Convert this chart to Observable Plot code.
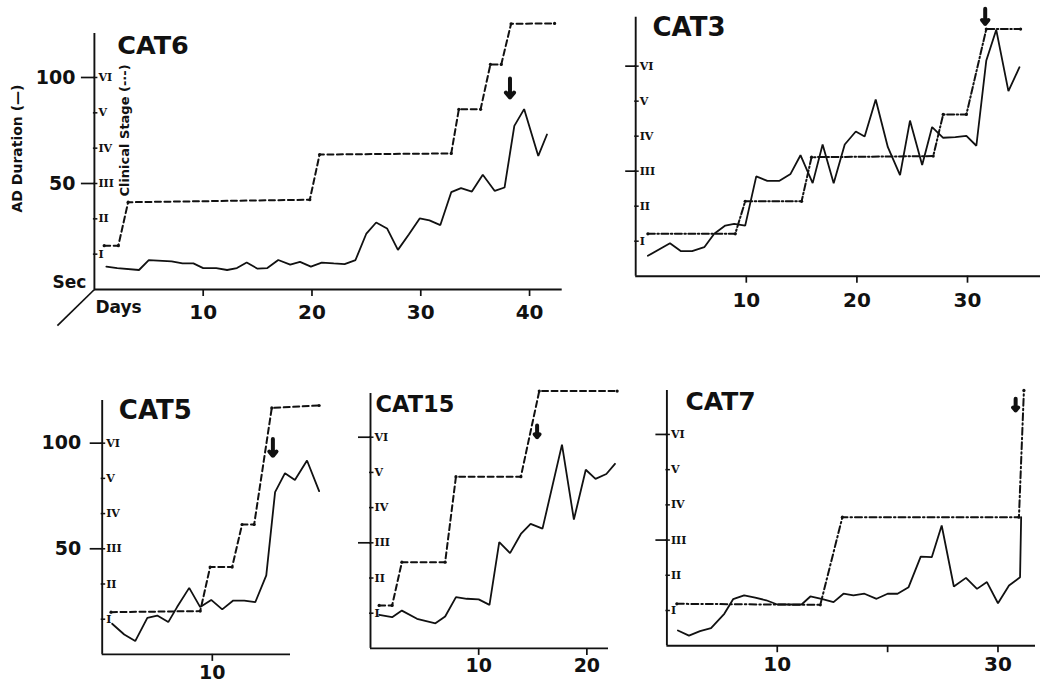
<!DOCTYPE html>
<html><head><meta charset="utf-8">
<script src="https://cdn.jsdelivr.net/npm/d3@7"></script>
<script src="https://cdn.jsdelivr.net/npm/@observablehq/plot@0.6"></script>
<style>
html,body{margin:0;padding:0;background:#fff;}
#wrap{position:relative;width:1046px;height:684px;overflow:hidden;background:#fff;}
#wrap svg{position:absolute;left:0;top:0;}
</style></head><body><div id="wrap"></div>
<script>
// ---------- data ----------
const AD_PER_STAGE = 50 / 3;           // stage III = 50 s, stage VI = 100 s
const stageLevels = [1, 2, 3, 4, 5, 6];
const stageLabels = ["I", "II", "III", "IV", "V", "VI"];
const adTicks = [50, 100];

// CAT6
const cat6Days  = [1.1,2.1,4.1,5.0,7.1,8.1,9.1,10,11.2,12.2,13.1,14,15,15.9,16.9,18,18.9,19.9,20.9,22,23,24,25,25.9,26.9,27.9,28.9,29.9,30.8,31.8,32.8,33.7,34.7,35.7,36.8,37.7,38.6,39.5,40.8,41.6];
const cat6AD    = [10.8,10.1,9.2,13.9,13.3,12.3,12.3,10.1,10.1,9.2,10.1,12.7,9.8,10.1,13.9,11.7,13.0,10.8,12.7,12.3,12.0,13.9,26.4,31.6,28.8,18.7,25.9,33.5,32.6,30.4,45.9,47.8,46.2,54.1,46.5,48.1,77.2,85.1,63.0,73.1];
const cat6StageDays = [0.9,2.2,3.1,19.8,20.7,32.8,33.5,35.5,36.4,37.4,38.3,42.3];
const cat6Stage     = [1.24,1.24,2.47,2.54,3.82,3.85,5.1,5.1,6.37,6.37,7.52,7.53];
const cat6XTicks = [10,20,30,40];
const cat6XLabels = [10,20,30,40];
const cat6Arrow = {day: 38.2, from: 99.5, to: 90.6};

// CAT3
const cat3Days = [1.1,3.1,4.1,5.1,6.2,7.1,8.1,8.9,9.9,10.9,11.9,13,14,14.9,16,16.9,17.9,18.9,19.9,20.7,21.7,22.8,23.9,24.8,25.9,26.8,27.8,28.9,29.9,30.8,31.7,32.6,33.7,34.7];
const cat3AD   = [9.7,15.7,11.9,11.9,13.8,20.2,24.1,24.9,24.1,47.5,45.4,45.4,48.7,57.6,44.3,62.7,44.3,62.7,68.9,66.5,84.1,61.4,48.1,74.1,52.9,71.0,65.9,66.2,66.8,62.1,102.7,117.3,88.1,99.5];
const cat3StageDays = [1.1,9.0,9.9,15.0,15.9,26.9,27.8,29.9,31.7,34.8];
const cat3Stage     = [1.21,1.21,2.14,2.14,3.4,3.43,4.62,4.62,7.06,7.06];
const cat3XTicks = [10,20,30];
const cat3XLabels = [10,20,30];
const cat3Arrow = {day: 31.6, from: 127.3, to: 120.1};

// CAT5
const cat5Days = [0.9,2.0,3.0,4.1,5.0,6.0,6.8,7.9,8.9,9.9,10.9,11.9,12.9,13.9,14.9,15.7,16.6,17.5,18.6,19.7];
const cat5AD   = [14.5,9.4,6.3,17.3,18.4,15.3,22.4,31.5,22.4,25.8,21.3,25.5,25.5,24.7,37.4,76.8,85.8,82.6,91.8,77.3];
const cat5StageDays = [0.8,8.9,9.8,11.8,12.7,13.8,15.4,19.7];
const cat5Stage     = [1.2,1.23,2.48,2.48,3.69,3.69,7.0,7.07];
const cat5XTicks = [10];
const cat5XLabels = [10];
const cat5Arrow = {day: 15.5, from: 102, to: 94};

// CAT15
const cat15Days = [0.8,2.0,2.9,4.3,6.0,6.9,7.9,8.9,10.0,11.0,11.9,12.9,13.9,14.8,15.9,17.7,18.8,19.9,20.8,21.8,22.6];
const cat15AD   = [15.9,14.8,17.9,14.0,11.9,15.1,24.3,23.5,23.2,20.6,50.3,45.1,54.2,59.0,56.7,96.5,61.0,84.6,80.3,82.6,87.4];
const cat15StageDays = [0.8,2.0,2.9,6.9,7.9,13.9,15.6,22.8];
const cat15Stage     = [1.22,1.22,2.45,2.45,4.88,4.88,7.31,7.31];
const cat15XTicks = [10,20];
const cat15XLabels = [10,20];
const cat15Arrow = {day: 15.4, from: 105.5, to: 100};

// CAT7
const cat7Days = [1.0,2.0,3.0,4.0,5.2,6.0,7.0,8.0,9.0,10.0,11.1,12.2,13.0,14.1,15.1,16.0,16.9,17.9,19.0,20.0,20.9,21.9,23.0,24.0,24.9,26.0,27.1,28.1,29.0,30.0,31.0,32.0,32.1];
const cat7AD   = [7.2,4.8,6.9,8.3,15.1,22.0,23.8,22.7,21.5,19.5,19.5,19.5,23.3,22.0,20.6,24.6,23.8,24.6,22.2,24.6,24.6,27.7,42.2,41.9,56.9,28.0,32.1,26.9,30.1,20.1,28.5,32.4,60.8];
const cat7StageDays = [0.9,13.9,15.9,31.9,32.35];
const cat7Stage     = [1.19,1.16,3.65,3.65,7.25];
const cat7XTicks = [10,20,30];
const cat7XLabels = [10,30];
const cat7Arrow = {day: 31.6, from: 116.9, to: 111.3};

// ---------- drawing ----------
const SANS = "'DejaVu Sans', 'Liberation Sans', sans-serif";
const SERIF = "'DejaVu Serif', 'Liberation Serif', serif";
const INK = "#111";

const panels = [
  {title:"CAT6", days:cat6Days, ad:cat6AD, sDays:cat6StageDays, stage:cat6Stage, xTicks:cat6XTicks, xLabels:cat6XLabels, arrow:cat6Arrow,
   left:93.9, right:561.7, top:33, bottom:289, xMax:43, yMax:120.75, adLabels:true, adTick:13, adPad:6,
   xPad:8, xFont:20, titleDx:22.8, titleDy:2, titleSize:25.5, dash:"6,3.5", extras:true},
  {title:"CAT3", days:cat3Days, ad:cat3AD, sDays:cat3StageDays, stage:cat3Stage, xTicks:cat3XTicks, xLabels:cat3XLabels, arrow:cat3Arrow,
   left:635.2, right:1040, top:16.7, bottom:275.7, xMax:36.6, yMax:123.3, adLabels:false, adTick:10, adPad:6,
   xPad:10, xFont:20, titleDx:16.8, titleDy:0.5, titleSize:26, dash:"7,2.5,1.5,2.5"},
  {title:"CAT5", days:cat5Days, ad:cat5AD, sDays:cat5StageDays, stage:cat5Stage, xTicks:cat5XTicks, xLabels:cat5XLabels, arrow:cat5Arrow,
   left:101.7, right:290, top:400, bottom:653.9, xMax:17.1, yMax:120.2, adLabels:true, adTick:12, adPad:9,
   xPad:4, xFont:19, titleDx:16.6, titleDy:0.5, titleSize:26, dash:"6,3.5"},
  {title:"CAT15", days:cat15Days, ad:cat15AD, sDays:cat15StageDays, stage:cat15Stage, xTicks:cat15XTicks, xLabels:cat15XLabels, arrow:cat15Arrow,
   left:370, right:608, top:393, bottom:647.9, xMax:22.0, yMax:120.7, adLabels:false, adTick:12, adPad:6,
   xPad:3, xFont:19, titleDx:5, titleDy:3, titleSize:22.5, dash:"6,3.5"},
  {title:"CAT7", days:cat7Days, ad:cat7AD, sDays:cat7StageDays, stage:cat7Stage, xTicks:cat7XTicks, xLabels:cat7XLabels, arrow:cat7Arrow,
   left:666.4, right:1035, top:390, bottom:645.2, xMax:33.4, yMax:120.8, adLabels:false, adTick:11, adPad:6,
   xPad:4, xFont:20, titleDx:18.6, titleDy:1.7, titleSize:25, dash:"7,3,1.5,3"}
];

const wrap = document.getElementById("wrap");
const W = 1046, H = 684;

for (const p of panels) {
  const solid = p.days.map((d, i) => ({day: d, ad: p.ad[i]}));
  const stg = p.sDays.map((d, i) => ({day: d, stage: p.stage[i]}));
  const sTicks = stageLevels.map((s, i) => ({ad: s * AD_PER_STAGE, label: stageLabels[i]}));
  const marks = [
    Plot.ruleX([0], {stroke: INK, strokeWidth: 1.9}),
    Plot.ruleY([0], {stroke: INK, strokeWidth: 1.9}),
    Plot.axisY({ticks: adTicks, tickSize: p.adTick, tickPadding: p.adPad,
      tickFormat: p.adLabels ? (d => String(d)) : (() => ""),
      fontSize: 19, fontWeight: "bold", fontFamily: SANS, stroke: INK, strokeWidth: 1.7, fill: INK, label: null}),
    Plot.ruleY(sTicks, {y: "ad", x1: 0, x2: 0, insetLeft: -1, insetRight: -3.5, stroke: INK, strokeWidth: 1.5}),
    Plot.text(sTicks, {y: "ad", x: 0, text: "label", dx: 4, textAnchor: "start", lineAnchor: "middle",
      fontFamily: SERIF, fontSize: 11, fontWeight: "bold", fill: INK}),
    Plot.axisX({ticks: p.xTicks, tickSize: 7, tickPadding: p.xPad,
      tickFormat: d => p.xLabels.includes(d) ? String(d) : "",
      fontSize: p.xFont, fontWeight: "bold", fontFamily: SANS, stroke: INK, strokeWidth: 1.7, fill: INK, label: null}),
    Plot.line(stg, {x: "day", y: d => d.stage * AD_PER_STAGE, stroke: INK, strokeWidth: 2, strokeDasharray: p.dash}),
    Plot.dot(stg, {x: "day", y: d => d.stage * AD_PER_STAGE, r: 1.6, fill: INK}),
    Plot.line(solid, {x: "day", y: "ad", stroke: INK, strokeWidth: 1.8, strokeLinejoin: "miter"}),
    Plot.arrow([p.arrow], {x1: "day", x2: "day", y1: "from", y2: "to", stroke: INK, strokeWidth: 4, headLength: 8, headAngle: 80}),
    Plot.text([p.title], {text: d => d, frameAnchor: "top-left", dx: p.titleDx, dy: p.titleDy, textAnchor: "start", lineAnchor: "top",
      fontFamily: SANS, fontWeight: "bold", fontSize: p.titleSize, fill: INK})
  ];
  if (p.extras) {
    marks.push(
      Plot.link([{x1: 0, y1: 0, x2: -3.4, y2: -17}], {x1: "x1", y1: "y1", x2: "x2", y2: "y2", stroke: INK, strokeWidth: 1.7}),
      Plot.text(["AD Duration (—)"], {text: d => d, frameAnchor: "top-left", dx: -76.4, dy: 115, rotate: -90,
        textAnchor: "middle", lineAnchor: "middle", fontFamily: SANS, fontWeight: "bold", fontSize: 14, fill: INK}),
      Plot.text(["Clinical Stage (-·-)"], {text: d => d, frameAnchor: "top-left", dx: 30.1, dy: 97, rotate: -90,
        textAnchor: "middle", lineAnchor: "middle", fontFamily: SANS, fontWeight: "bold", fontSize: 13, fill: INK}),
      Plot.text(["Sec"], {text: d => d, frameAnchor: "bottom-left", dx: -8, dy: -14, textAnchor: "end", lineAnchor: "top",
        fontFamily: SANS, fontWeight: "bold", fontSize: 17, fill: INK}),
      Plot.text(["Days"], {text: d => d, frameAnchor: "bottom-left", dx: 1, dy: 11, textAnchor: "start", lineAnchor: "top",
        fontFamily: SANS, fontWeight: "bold", fontSize: 17, fill: INK})
    );
  }
  const svg = Plot.plot({
    width: W, height: H,
    marginLeft: p.left, marginRight: W - p.right, marginTop: p.top, marginBottom: H - p.bottom,
    x: {domain: [0, p.xMax]},
    y: {domain: [0, p.yMax]},
    style: {background: "none", overflow: "visible", fontFamily: SANS},
    marks
  });
  wrap.appendChild(svg);
}
</script>
</body></html>
